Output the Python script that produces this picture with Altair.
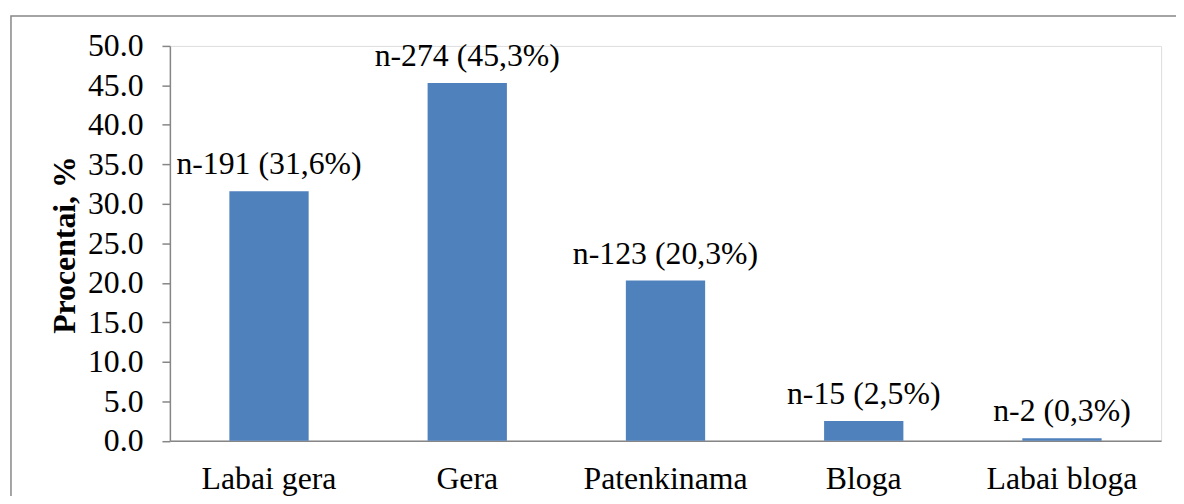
import altair as alt
import pandas as pd

categories = ["Labai gera", "Gera", "Patenkinama", "Bloga", "Labai bloga"]
percents = [31.6, 45.3, 20.3, 2.5, 0.3]
counts = [191, 274, 123, 15, 2]
bar_labels = [f"n-{n} ({str(p).replace('.', ',')}%)" for n, p in zip(counts, percents)]
y_ticks = [0.0, 5.0, 10.0, 15.0, 20.0, 25.0, 30.0, 35.0, 40.0, 45.0, 50.0]

df = pd.DataFrame({"cat": categories, "pct": percents, "label": bar_labels})

FONT = "Liberation Serif"
GREY = "#868686"
FS = 32

x_scale = alt.Scale(paddingInner=0.6, paddingOuter=0.3)
y_scale = alt.Scale(domain=[0, 50], nice=False)

x_axis = alt.Axis(
    ticks=False,
    labelAngle=0,
    labelBaseline="alphabetic",
    labelPadding=48,
    labelFont=FONT,
    labelFontSize=FS,
    labelColor="black",
    labelOverlap=False,
    domainColor=GREY,
    domainWidth=1.5,
)
y_axis = alt.Axis(
    values=y_ticks,
    tickCount=11,
    format=".1f",
    grid=False,
    tickSize=8,
    tickColor=GREY,
    tickWidth=1.5,
    domainColor=GREY,
    domainWidth=1.5,
    labelPadding=19,
    labelFont=FONT,
    labelFontSize=FS,
    labelColor="black",
    labelBaseline="middle",
    labelOverlap=False,
    labelFlush=False,
    titleFont=FONT,
    titleFontSize=FS,
    titleFontWeight="bold",
    titleColor="black",
    titleAngle=270,
    titleAlign="center",
    titleBaseline="alphabetic",
    titleX=-96,
    titleY=200,
)

x_enc = alt.X("cat:N", sort=categories, title=None, scale=x_scale, axis=x_axis)
y_enc = alt.Y("pct:Q", title="Procentai, %", scale=y_scale, axis=y_axis)

bars = alt.Chart(df).mark_bar(color="#4F81BD").encode(x=x_enc, y=y_enc)

text = alt.Chart(df).mark_text(
    dy=-17, baseline="alphabetic", align="center", font=FONT, fontSize=FS, color="black"
).encode(x=x_enc, y=y_enc, text="label:N")

border = alt.Chart(pd.DataFrame({"a": [0]})).mark_rect(
    fillOpacity=0, stroke=GREY, strokeWidth=1.5
).encode(
    x=alt.value(-160), x2=alt.value(1100), y=alt.value(-30), y2=alt.value(600)
)

chart = alt.layer(border, bars, text).properties(
    width=998,
    height=397.5,
    autosize=alt.AutoSizeParams(type="none"),
    padding={"left": 163, "top": 36.5, "right": 15, "bottom": 54},
).configure_view(stroke=None, strokeWidth=0).configure(background="white")

chart.save("out.html", embed_options={"renderer": "svg", "actions": False})
